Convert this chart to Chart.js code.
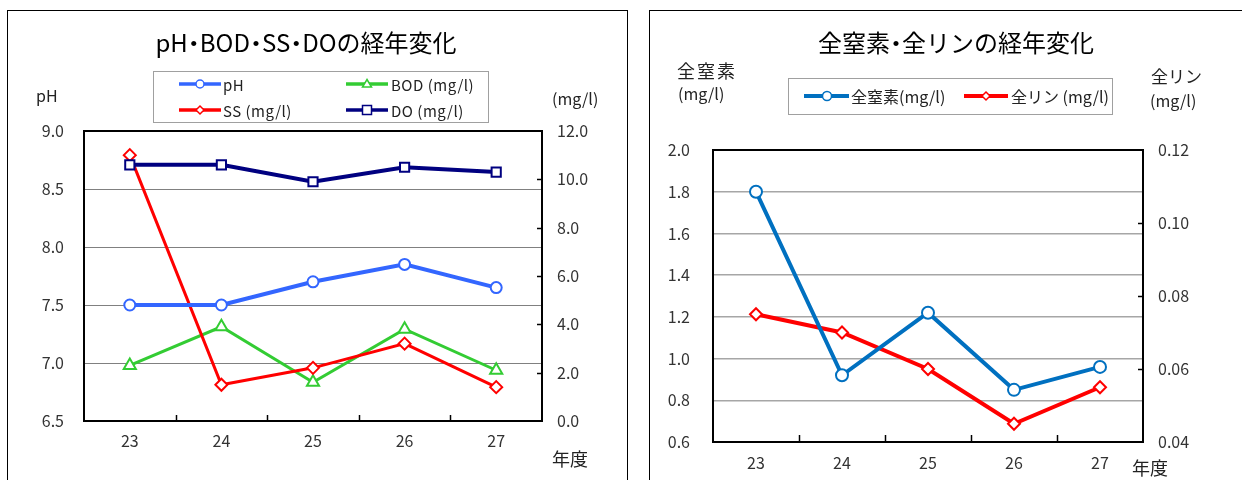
<!DOCTYPE html>
<html><head><meta charset="utf-8">
<script src="https://cdn.jsdelivr.net/npm/chart.js@4"></script>
<style>
body{margin:0;width:1242px;height:480px;overflow:hidden;background:#fff;font-family:"Noto Sans CJK JP","Noto Sans",sans-serif;position:relative}
.abs{position:absolute;white-space:nowrap;line-height:1}
.vc{transform:translateY(-50%)}
.ttl{font-size:24px;color:#000;transform:translate(-50%,-50%)}
.dot{margin:0 -6px}
.ax{font-size:16px;color:#222}
.lg{font-size:15px;color:#222;letter-spacing:0.5px}
.lbox{position:absolute;border:1px solid #a0a0a0;background:#fff}
</style></head><body>
<div class="abs" style="left:7px;top:10px;width:619px;height:500px;border:1px solid #000"></div>
<div class="abs" style="left:649px;top:10px;width:700px;height:500px;border:1px solid #000"></div>
<canvas id="c1" width="620" height="480" style="position:absolute;left:0;top:0"></canvas>
<canvas id="c2" width="612" height="480" style="position:absolute;left:630px;top:0"></canvas>

<div class="abs ttl" style="left:306px;top:42px">pH<span class="dot">・</span>BOD<span class="dot">・</span>SS<span class="dot">・</span>DOの経年変化</div>
<div class="abs ttl" style="left:956px;top:42px">全窒素<span class="dot">・</span>全リンの経年変化</div>

<div class="lbox" style="left:153px;top:71px;width:334px;height:50px"></div>
<svg class="abs" style="left:176px;top:76px" width="50" height="16"><line x1="3" y1="8" x2="45" y2="8" stroke="#3366FF" stroke-width="3.5"/><circle cx="24" cy="8" r="4" fill="#fff" stroke="#3366FF" stroke-width="1.5"/></svg>
<div class="abs lg vc" style="left:223px;top:84px">pH</div>
<svg class="abs" style="left:343px;top:76px" width="50" height="16"><line x1="3" y1="8" x2="45" y2="8" stroke="#33CC33" stroke-width="3.5"/><polygon points="24,3.5 28.5,11 19.5,11" fill="#fff" stroke="#33CC33" stroke-width="1.5"/></svg>
<div class="abs lg vc" style="left:391px;top:84px">BOD (mg/l)</div>
<svg class="abs" style="left:176px;top:102px" width="50" height="16"><line x1="3" y1="8" x2="45" y2="8" stroke="#FF0000" stroke-width="3.5"/><polygon points="24,4 28,8 24,12 20,8" fill="#fff" stroke="#FF0000" stroke-width="1.5"/></svg>
<div class="abs lg vc" style="left:223px;top:110px">SS (mg/l)</div>
<svg class="abs" style="left:343px;top:102px" width="50" height="16"><line x1="3" y1="8" x2="45" y2="8" stroke="#000080" stroke-width="3.5"/><rect x="19.5" y="3.5" width="9" height="9" fill="#fff" stroke="#000080" stroke-width="1.5"/></svg>
<div class="abs lg vc" style="left:391px;top:110px">DO (mg/l)</div>

<div class="lbox" style="left:788px;top:78px;width:323px;height:35px"></div>
<svg class="abs" style="left:801px;top:88px" width="52" height="16"><line x1="3" y1="8" x2="48" y2="8" stroke="#0070C0" stroke-width="4"/><circle cx="26" cy="8" r="4.5" fill="#fff" stroke="#0070C0" stroke-width="1.5"/></svg>
<div class="abs lg vc" style="left:851px;top:96px;font-size:16px;letter-spacing:0">全窒素(mg/l)</div>
<svg class="abs" style="left:961px;top:88px" width="52" height="16"><line x1="3" y1="8" x2="47" y2="8" stroke="#FF0000" stroke-width="4"/><polygon points="25,4 29,8 25,12 21,8" fill="#fff" stroke="#FF0000" stroke-width="1.5"/></svg>
<div class="abs lg vc" style="left:1011px;top:96px;font-size:16px;letter-spacing:0">全リン (mg/l)</div>

<div class="abs ax vc" style="left:36px;top:95px">pH</div>
<div class="abs ax vc" style="left:552px;top:98px">(mg/l)</div>
<div class="abs ax vc" style="left:552px;top:458px;font-size:18px">年度</div>
<div class="abs ax vc" style="left:677px;top:70px;font-size:18px;letter-spacing:2px">全窒素</div>
<div class="abs ax vc" style="left:678px;top:93px">(mg/l)</div>
<div class="abs ax vc" style="left:1151px;top:75px;font-size:17px">全リン</div>
<div class="abs ax vc" style="left:1150px;top:100px">(mg/l)</div>
<div class="abs ax vc" style="left:1132px;top:467px;font-size:18px">年度</div>

<script>
const years = ['23', '24', '25', '26', '27'];
const phValues = [7.5, 7.5, 7.7, 7.85, 7.65];
const bodValues = [2.3, 3.9, 1.6, 3.8, 2.1];
const ssValues = [11.0, 1.5, 2.2, 3.2, 1.4];
const doValues = [10.6, 10.6, 9.9, 10.5, 10.3];
const phTicks = [6.5, 7.0, 7.5, 8.0, 8.5, 9.0];
const mgTicks = [0, 2, 4, 6, 8, 10, 12];

const nValues = [1.80, 0.92, 1.22, 0.85, 0.96];
const pValues = [0.075, 0.070, 0.060, 0.045, 0.055];
const nTicks = [0.6, 0.8, 1.0, 1.2, 1.4, 1.6, 1.8, 2.0];
const pTicks = [0.04, 0.06, 0.08, 0.10, 0.12];

const FAM = '"Noto Sans CJK JP","Noto Sans",sans-serif';

const framePlugin = {
  id: 'frame',
  beforeDatasetsDraw(chart, args, opts) {
    const {ctx, chartArea: a, scales} = chart;
    ctx.save();
    ctx.strokeStyle = '#000';
    ctx.lineWidth = 1.5;
    const x = scales.x;
    for (let i = 0; i < x.ticks.length - 1; i++) {
      const px = Math.round((x.getPixelForTick(i) + x.getPixelForTick(i + 1)) / 2) + 0.5;
      ctx.beginPath(); ctx.moveTo(px, a.bottom); ctx.lineTo(px, a.bottom - opts.xTick); ctx.stroke();
    }
    const y1 = scales.y1;
    y1.ticks.forEach((t, i) => {
      if (i === 0 || i === y1.ticks.length - 1) return;
      const py = Math.round(y1.getPixelForValue(t.value)) + 0.5;
      ctx.beginPath(); ctx.moveTo(a.right - opts.yTick, py); ctx.lineTo(a.right, py); ctx.stroke();
    });
    ctx.lineWidth = 2;
    ctx.strokeRect(a.left, a.top, a.right - a.left, a.bottom - a.top);
    ctx.restore();
  }
};

function yAxis(pos, arr, width, pad, dec, grid, gridColor, gridW) {
  return {
    type: 'linear', position: pos, min: arr[0], max: arr[arr.length - 1],
    afterBuildTicks: s => { s.ticks = arr.map(v => ({value: v})); },
    afterFit: s => { s.width = width; },
    ticks: {padding: pad, color: '#333', font: {family: FAM, size: 16}, callback: v => Number(v).toFixed(dec)},
    grid: {display: grid, color: gridColor, lineWidth: gridW, drawTicks: false},
    border: {display: false}
  };
}
function xAxis(height, pad) {
  return {
    type: 'category', offset: true,
    afterFit: s => { s.height = height; },
    ticks: {padding: pad, color: '#333', font: {family: FAM, size: 16}, maxRotation: 0, autoSkip: false},
    grid: {display: false, drawTicks: false},
    border: {display: false}
  };
}
function ds(label, data, axis, color, lw, style, r, order) {
  return {label, data, yAxisID: axis, borderColor: color, borderWidth: lw, pointStyle: style,
    pointRadius: r, pointBorderWidth: 2, pointBackgroundColor: '#fff', pointBorderColor: color,
    tension: 0, order, fill: false};
}
const common = {
  responsive: false, animation: false, devicePixelRatio: 1, events: [],
  plugins: {legend: {display: false}, tooltip: {enabled: false}}
};

new Chart(document.getElementById('c1'), {
  type: 'line',
  data: {
    labels: years,
    datasets: [
      ds('pH', phValues, 'y', '#3366FF', 4, 'circle', 5.5, 1),
      ds('BOD (mg/l)', bodValues, 'y1', '#33CC33', 3, 'triangle', 7, 3),
      ds('SS (mg/l)', ssValues, 'y1', '#FF0000', 3, 'rectRot', 6, 2),
      ds('DO (mg/l)', doValues, 'y1', '#000080', 4, 'rect', 6.5, 0)
    ]
  },
  options: Object.assign({}, common, {
    layout: {padding: {top: 131, left: 0, right: 0, bottom: 0}},
    scales: {
      x: xAxis(59, 10),
      y: yAxis('left', phTicks, 84, 20, 1, true, '#808080', 1),
      y1: yAxis('right', mgTicks, 78, 15, 1, false, '#808080', 1)
    },
    plugins: Object.assign({}, common.plugins, {frame: {xTick: 6, yTick: 5}})
  }),
  plugins: [framePlugin]
});

new Chart(document.getElementById('c2'), {
  type: 'line',
  data: {
    labels: years,
    datasets: [
      ds('全窒素(mg/l)', nValues, 'y', '#0070C0', 4, 'circle', 6, 0),
      ds('全リン(mg/l)', pValues, 'y1', '#FF0000', 4, 'rectRot', 6, 1)
    ]
  },
  options: Object.assign({}, common, {
    layout: {padding: {top: 150, left: 0, right: 0, bottom: 0}},
    scales: {
      x: xAxis(38, 11),
      y: yAxis('left', nTicks, 83, 23, 1, true, '#A6A6A6', 1.5),
      y1: yAxis('right', pTicks, 99, 15, 2, false, '#A6A6A6', 1)
    },
    plugins: Object.assign({}, common.plugins, {frame: {xTick: 7, yTick: 5}})
  }),
  plugins: [framePlugin]
});
</script>
</body></html>
